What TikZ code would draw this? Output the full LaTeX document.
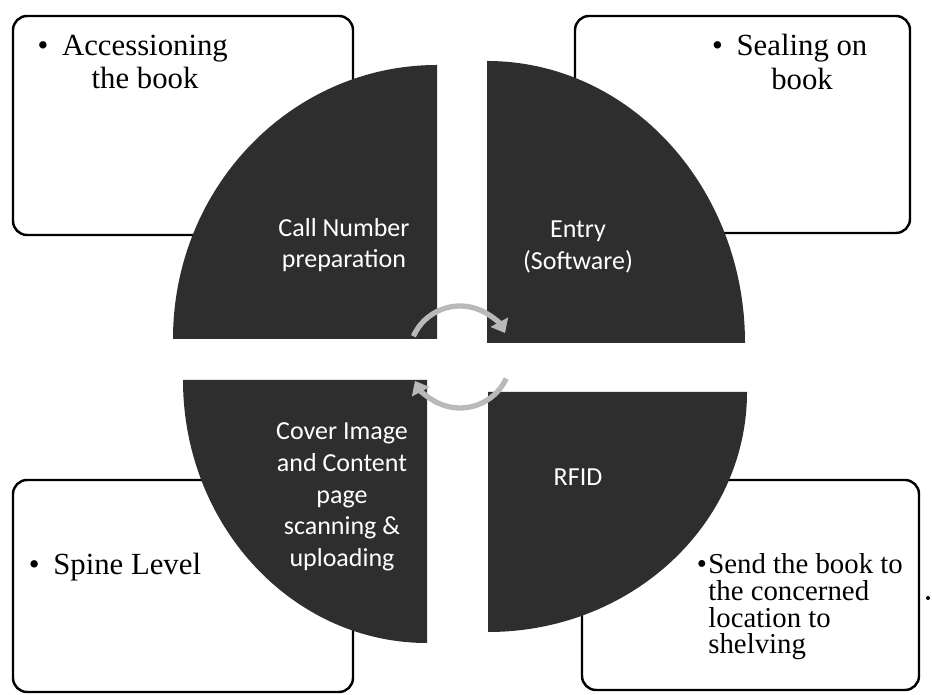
\documentclass[tikz,border=0pt]{standalone}
\usepackage{fontspec}
\setmainfont{Liberation Serif}
\newfontfamily\calibrifont{Carlito}
\usetikzlibrary{arrows.meta}

\begin{document}
\begin{tikzpicture}[x=0.02cm, y=0.02cm,
  box/.style={draw=black, line width=1.4pt, rounded corners=8pt, fill=white},
  quad/.style={fill=quadgray, draw=none},
  qtext/.style={text=white, font=\calibrifont\fontsize{14.8}{18}\selectfont, align=center},
  btext/.style={font=\fontsize{17.5}{19.3}\selectfont, align=center},
  cycle arrow/.style={draw=cyclegray, line width=3pt, -{Triangle[length=7pt, width=11pt]}}]

% Colors
\definecolor{quadgray}{RGB}{46,46,46}    % dark quarter
\definecolor{cyclegray}{RGB}{185,185,185} % arrows in the middle

\useasboundingbox (0,0) rectangle (932,695);

% === BOXES ===
\draw[box] (13,460) rectangle (353,679);
\draw[box] (575,462) rectangle (910,679);
\draw[box] (13,3) rectangle (353,215);
\draw[box] (582,5) rectangle (919,215);

% === QUARTERS ===
\fill[quad] (437,356) -- (173,356) arc[start angle=180, end angle=90, x radius=264, y radius=274] -- cycle;
\fill[quad] (487,352) -- (487,634) arc[start angle=90, end angle=0, x radius=258, y radius=282] -- cycle;
\fill[quad] (427,315) -- (427,52) arc[start angle=270, end angle=180, x radius=244, y radius=263] -- cycle;
\fill[quad] (488,303) -- (747,303) arc[start angle=0, end angle=-90, x radius=259, y radius=240] -- cycle;

% === Texts in the quarters ===
\node[qtext] (callno) at (344,450) {Call Number\\preparation};
\node[qtext] (entry) at (578,448) {Entry\\(Software)};
\node[qtext] (cover) at (342,198) {Cover Image\\and Content\\page\\scanning \&\\uploading};
\node[qtext] (rfid) at (578,218) {RFID};

% === Cycle ===
\coordinate (mid) at (460,338);
\draw[cycle arrow] (mid) ++(156:51) arc[start angle=156, end angle=28, radius=51];
\draw[cycle arrow] (mid) ++(-25:51) arc[start angle=-25, end angle=-152, radius=51];

% === Texts in the boxes ===
\node[btext] (access) at (145,633) {\llap{\textbullet\hspace{0.45em}}Accessioning\\the book};
\node[btext] (sealing) at (802,633) {\llap{\textbullet\hspace{0.45em}}Sealing on\\book};
\node[btext, anchor=base west, inner sep=0pt] (spine) at (53,120) {\llap{\textbullet\hspace{0.45em}}Spine Level};
\node[anchor=north west, inner sep=0pt, align=left, font=\fontsize{16.4}{15.3}\selectfont] (send) at (708,142)
  {\llap{\textbullet\hspace{0.05em}}Send the book to\\the concerned\\location to\\shelving};
\fill (928,97) circle (2);

\end{tikzpicture}
\end{document}
